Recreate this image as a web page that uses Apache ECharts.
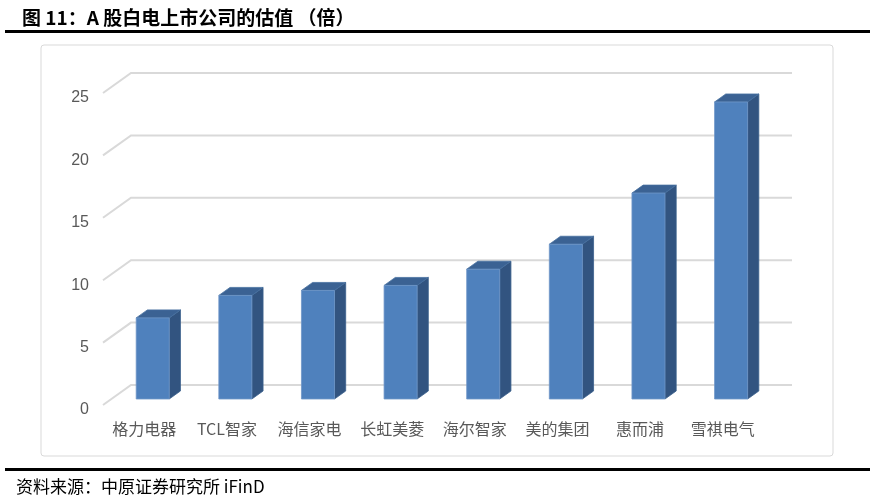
<!DOCTYPE html>
<html>
<head>
<meta charset="utf-8">
<script src="https://cdn.jsdelivr.net/npm/echarts@6/dist/echarts.min.js"></script>
<style>
html,body{margin:0;padding:0;background:#fff;}
#chart{width:875px;height:502px;}
</style>
</head>
<body>
<div id="chart"></div>
<script>
var categories = ['格力电器', 'TCL智家', '海信家电', '长虹美菱', '海尔智家', '美的集团', '惠而浦', '雪祺电气'];
var values = [6.5, 8.3, 8.7, 9.1, 10.4, 12.4, 16.5, 23.8];
var yTicks = [0, 5, 10, 15, 20, 25];

var DEPTH_X = 28, DEPTH_Y = 20;      // full depth of the 3D floor
var BAR_D0 = 0.3, BAR_D1 = 0.7;      // bar depth range (fraction)

var chart = echarts.init(document.getElementById('chart'));

var option = {
  animation: false,
  backgroundColor: '#fff',
  title: {
    text: '图 11：A 股白电上市公司的估值 （倍）',
    left: 17, top: 3,
    textStyle: {fontFamily: 'Noto Sans CJK SC', fontWeight: 'bold', fontSize: 19, color: '#000'}
  },
  graphic: [
    {type: 'rect', shape: {x: 5, y: 30, width: 865, height: 3}, style: {fill: '#000'}, silent: true},
    {type: 'rect', shape: {x: 41, y: 45, width: 792, height: 411, r: 3}, style: {fill: 'none', stroke: '#d9d9d9', lineWidth: 1}, silent: true},
    {type: 'rect', shape: {x: 5, y: 468, width: 865, height: 3}, style: {fill: '#000'}, silent: true},
    {type: 'text', left: 16, top: 478, style: {text: '资料来源：中原证券研究所 iFinD', font: '17px "Noto Sans CJK SC"', fill: '#000'}, silent: true}
  ],
  grid: {left: 103, right: 111, top: 93, bottom: 97},
  xAxis: {
    type: 'category',
    data: categories,
    axisLine: {show: false},
    axisTick: {show: false},
    splitLine: {show: false},
    axisLabel: {interval: 0, margin: 16, fontSize: 16, color: '#595959', fontFamily: 'Noto Sans CJK SC'}
  },
  yAxis: {
    type: 'value',
    min: 0, max: 25, interval: 5,
    axisLine: {show: false},
    axisTick: {show: false},
    splitLine: {show: false},
    axisLabel: {margin: 14, fontSize: 16, color: '#595959', fontFamily: 'Liberation Sans', verticalAlign: 'top', lineHeight: 10}
  },
  series: [
    {
      type: 'custom',
      z: 1,
      clip: false,
      silent: true,
      data: yTicks.map(function (t) { return [0, t]; }),
      encode: {x: 0, y: 1},
      renderItem: function (params, api) {
        var cs = params.coordSys;
        var y = api.coord([0, api.value(1)])[1];
        return {
          type: 'polyline',
          shape: {points: [[cs.x, y], [cs.x + DEPTH_X, y - DEPTH_Y], [cs.x + cs.width + DEPTH_X, y - DEPTH_Y]]},
          style: {stroke: '#d9d9d9', lineWidth: 2, fill: 'none'}
        };
      }
    },
    {
      type: 'custom',
      z: 2,
      clip: false,
      data: values.map(function (v, i) { return [i, v]; }),
      encode: {x: 0, y: 1},
      renderItem: function (params, api) {
        var idx = api.value(0);
        var base = api.coord([idx, 0]);
        var top = api.coord([idx, api.value(1)]);
        var w = api.size([1, 0])[0] * 0.4;
        var ox = DEPTH_X * BAR_D0, oy = -DEPTH_Y * BAR_D0;
        var dx = DEPTH_X * (BAR_D1 - BAR_D0), dy = -DEPTH_Y * (BAR_D1 - BAR_D0);
        var x0 = base[0] - w / 2 + ox, x1 = x0 + w;
        var yb = base[1] + oy, yt = top[1] + oy;
        return {
          type: 'group',
          children: [
            {type: 'polygon', shape: {points: [[x1, yb], [x1 + dx, yb + dy], [x1 + dx, yt + dy], [x1, yt]]},
              style: {fill: '#325480', stroke: '#3a5f8c', lineWidth: 0.8}},
            {type: 'polygon', shape: {points: [[x0, yt], [x1, yt], [x1 + dx, yt + dy], [x0 + dx, yt + dy]]},
              style: {fill: '#3b6293', stroke: '#46709f', lineWidth: 0.8}},
            {type: 'rect', shape: {x: x0, y: yt, width: w, height: yb - yt},
              style: {fill: '#4f81bd', stroke: '#7097c8', lineWidth: 0.8}}
          ]
        };
      }
    }
  ]
};
chart.setOption(option);
</script>
</body>
</html>
